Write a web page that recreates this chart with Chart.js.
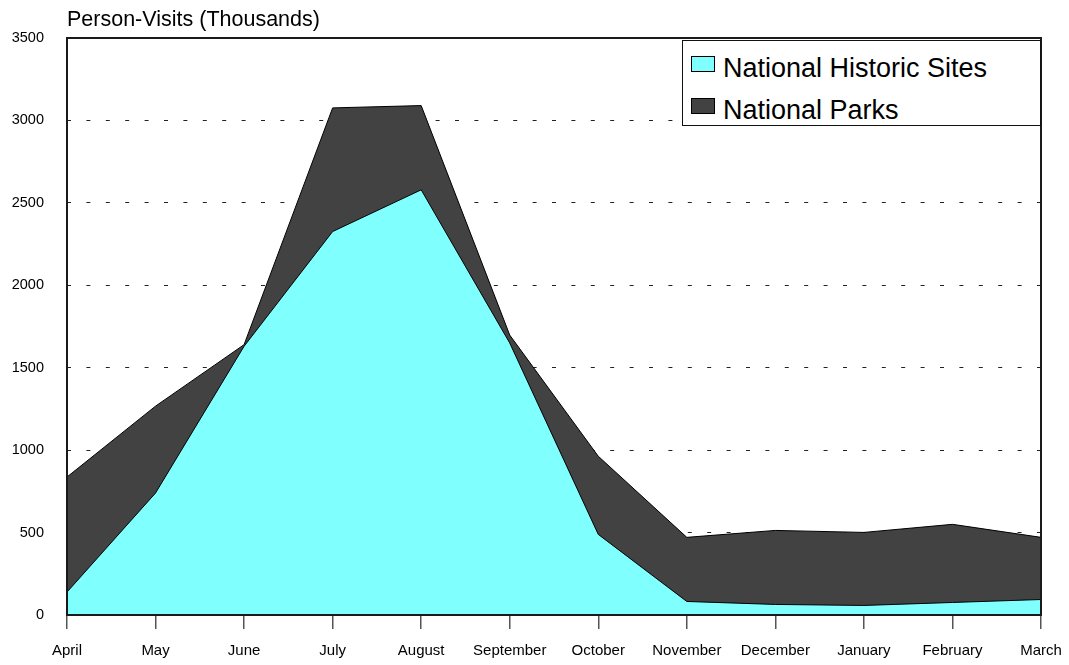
<!DOCTYPE html>
<html>
<head>
<meta charset="utf-8">
<title>Person-Visits</title>
<script src="https://cdn.jsdelivr.net/npm/chart.js@4/dist/chart.umd.min.js"></script>
<style>
  body { margin: 0; background: #fff; }
  #wrap { position: relative; width: 1069px; height: 665px; }
  #legendBox {
    position: absolute; left: 682px; top: 40px; width: 359px; height: 86px;
    box-sizing: border-box; border: 1.5px solid #111; background: #fff;
    font-family: "Liberation Sans", Arial, sans-serif; font-size: 27px; color: #000;
  }
  .lg-item { position: absolute; left: 8px; height: 27px; line-height: 27px; white-space: nowrap; }
  .lg-swatch { position: absolute; left: 0; top: 1px; width: 24px; height: 16px; border: 1px solid #000; box-sizing: border-box; }
  .lg-text { position: absolute; left: 32px; top: 0; }
</style>
</head>
<body>
<div id="wrap">
  <canvas id="visitsChart"></canvas>
  <div id="legendBox"></div>
</div>
<script>
"use strict";

var months = ["April", "May", "June", "July", "August", "September",
  "October", "November", "December", "January", "February", "March"];

// values (thousands)
var historicSites = [139, 740, 1630, 2326, 2579, 1650, 489, 82, 64, 58, 76, 94];
var nationalParks = [837, 1267, 1640, 3076, 3090, 1698, 963, 471, 513, 501, 550, 471];

var yTicks = [0, 500, 1000, 1500, 2000, 2500, 3000, 3500];

var historicColor = "#80ffff";
var parksColor = "#424242";
var fontFamily = '"Liberation Sans", Arial, sans-serif';

// chart title + full frame round the plot area
var framePlugin = {
  id: "frame",
  afterDraw: function (chart) {
    let ctx = chart.ctx;
    let a = chart.chartArea;
    ctx.save();
    ctx.strokeStyle = "#1a1a1a";
    ctx.lineWidth = 2;
    ctx.strokeRect(a.left, a.top, a.right - a.left, a.bottom - a.top);

    ctx.fillStyle = "#000";
    ctx.font = "21.5px " + fontFamily;
    ctx.textBaseline = "alphabetic";
    ctx.textAlign = "left";
    ctx.fillText("Person-Visits (Thousands)", a.left, 26);
    ctx.restore();
  },
};

var chart = new Chart(document.getElementById("visitsChart"), {
  type: "line",
  data: {
    labels: months,
    datasets: [
      {
        label: "National Historic Sites",
        data: historicSites,
        backgroundColor: historicColor,
        borderColor: "#000",
        borderWidth: 1,
        fill: "origin",
        tension: 0,
        pointRadius: 0,
      },
      {
        label: "National Parks",
        data: nationalParks,
        backgroundColor: parksColor,
        borderColor: "#000",
        borderWidth: 1,
        fill: "origin",
        tension: 0,
        pointRadius: 0,
      },
    ],
  },
  options: {
    responsive: true,
    maintainAspectRatio: false,
    animation: false,
    layout: {
      padding: { top: 38, right: 28, left: 0, bottom: 0 },
    },
    plugins: {
      legend: { display: false },
      title: { display: false },
      tooltip: { enabled: false },
    },
    scales: {
      x: {
        offset: false,
        border: { display: false },
        grid: {
          drawOnChartArea: false,
          drawTicks: true,
          tickLength: 14,
          color: "#555",
          lineWidth: 1.5,
        },
        ticks: {
          color: "#000",
          padding: 13,
          maxRotation: 0,
          autoSkip: false,
          font: { family: fontFamily, size: 15 },
        },
        afterFit: function (scale) {
          scale.height = 50;
          scale.paddingLeft = 0;
          scale.paddingRight = 0;
        },
      },
      y: {
        min: 0,
        max: 3500,
        border: { display: false, dash: [4, 15.4] },
        afterBuildTicks: function (scale) {
          scale.ticks = yTicks.map((v) => ({ value: v }));
        },
        grid: {
          drawTicks: false,
          color: function (c) {
            if (c.tick && (c.tick.value === 0 || c.tick.value === 3500)) {
              return "rgba(0,0,0,0)";
            }
            return "#222";
          },
          lineWidth: 1,
        },
        ticks: {
          color: "#000",
          padding: 23,
          font: { family: fontFamily, size: 14.5 },
          callback: function (value) {
            return String(value);
          },
        },
        afterFit: function (scale) {
          scale.width = 67;
          scale.paddingTop = 0;
          scale.paddingBottom = 0;
        },
      },
    },
  },
  plugins: [framePlugin],
});

// legend inside the plot, top right
var legendBox = document.getElementById("legendBox");
var legendRows = [
  { text: "National Historic Sites", color: historicColor, top: 14 },
  { text: "National Parks", color: parksColor, top: 56 },
];
legendRows.forEach((row) => {
  let item = document.createElement("div");
  item.className = "lg-item";
  item.style.top = row.top + "px";
  item.innerHTML =
    '<span class="lg-swatch" style="background:' + row.color + '"></span>' +
    '<span class="lg-text">' + row.text + "</span>";
  legendBox.appendChild(item);
});
</script>
</body>
</html>
